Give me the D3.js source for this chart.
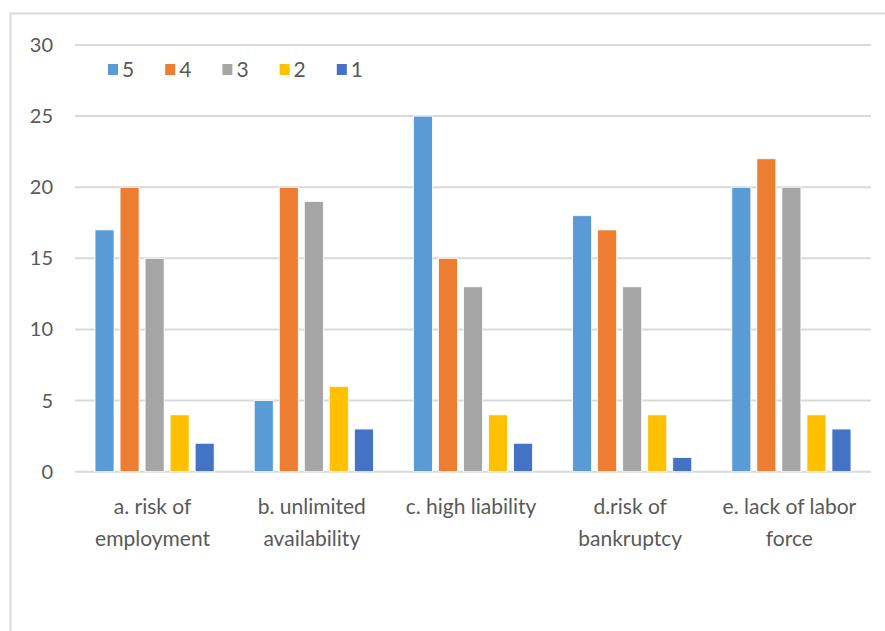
<!DOCTYPE html>
<html>
<head>
<meta charset="utf-8">
<script src="https://cdn.jsdelivr.net/npm/d3@7"></script>
<style>
  html, body { margin: 0; padding: 0; background: #ffffff; }
  svg { display: block; }
  text { font-family: "Lato", "Open Sans", sans-serif; fill: #595959; }
</style>
</head>
<body>
<svg id="chart" width="885" height="631"></svg>
<script>
// Survey responses per risk factor, rated 5 (highest) to 1
const categories = [
  ["a. risk of", "employment"],
  ["b. unlimited", "availability"],
  ["c. high liability"],
  ["d.risk of", "bankruptcy"],
  ["e. lack of labor", "force"]
];
const seriesNames = ["5", "4", "3", "2", "1"];
const values5 = [17, 5, 25, 18, 20];
const values4 = [20, 20, 15, 17, 22];
const values3 = [15, 19, 13, 13, 20];
const values2 = [4, 6, 4, 4, 4];
const values1 = [2, 3, 2, 1, 3];
const yTicks = [0, 5, 10, 15, 20, 25, 30];
const colors = ["#5B9BD5", "#ED7D31", "#A5A5A5", "#FFC000", "#4472C4"];

const seriesValues = [values5, values4, values3, values2, values1];

const svg = d3.select("#chart");
const margin = { left: 75, right: 14, top: 45, bottom: 159 };
const W = 885, H = 631;

// outer chart frame
svg.append("rect")
  .attr("x", 10.5).attr("y", 13.5)
  .attr("width", W).attr("height", H)
  .attr("fill", "none").attr("stroke", "#D9D9D9").attr("stroke-width", 2);

const x0 = d3.scaleBand()
  .domain(d3.range(categories.length))
  .range([margin.left, W - margin.right]);

const x1 = d3.scaleBand()
  .domain(seriesNames)
  .range([0, x0.bandwidth()])
  .paddingInner(0.24)
  .paddingOuter(0.8);

const y = d3.scaleLinear().domain([0, 30]).range([H - margin.bottom - 0.3, margin.top]);

// horizontal gridlines
svg.append("g").selectAll("line").data(yTicks).join("line")
  .attr("x1", margin.left).attr("x2", W - margin.right)
  .attr("y1", d => y(d)).attr("y2", d => y(d))
  .attr("stroke", "#D9D9D9").attr("stroke-width", 2);

// y tick labels
svg.append("g").selectAll("text").data(yTicks).join("text")
  .attr("x", 53).attr("y", d => y(d))
  .attr("dy", "0.35em")
  .attr("text-anchor", "end")
  .attr("font-size", 20)
  .text(d => d);

// bars
const groups = svg.append("g").selectAll("g").data(categories).join("g")
  .attr("transform", (d, i) => `translate(${x0(i)},0)`);

groups.selectAll("rect")
  .data((d, i) => seriesNames.map((s, k) => ({ s, v: seriesValues[k][i], k })))
  .join("rect")
  .attr("x", d => x1(d.s))
  .attr("width", x1.bandwidth())
  .attr("y", d => y(d.v))
  .attr("height", d => y(0) - y(d.v))
  .attr("fill", d => colors[d.k])
  .attr("stroke", "#ffffff")
  .attr("stroke-width", 0.8);

// category labels
const labels = svg.append("g").selectAll("text").data(categories).join("text")
  .attr("x", (d, i) => x0(i) + x0.bandwidth() / 2 - 2)
  .attr("y", 514)
  .attr("text-anchor", "middle")
  .attr("font-size", 21);
labels.selectAll("tspan").data(d => d).join("tspan")
  .attr("x", function () { return d3.select(this.parentNode).attr("x"); })
  .attr("dy", (d, j) => j === 0 ? 0 : 32)
  .text(d => d);

// legend
const legend = svg.append("g").selectAll("g").data(seriesNames).join("g")
  .attr("transform", (d, i) => `translate(${108 + i * 57.2},64)`);
legend.append("rect")
  .attr("width", 10).attr("height", 11)
  .attr("fill", (d, i) => colors[i]);
legend.append("text")
  .attr("x", 14).attr("y", 6)
  .attr("dy", "0.35em")
  .attr("font-size", 21)
  .text(d => d);
</script>
</body>
</html>
